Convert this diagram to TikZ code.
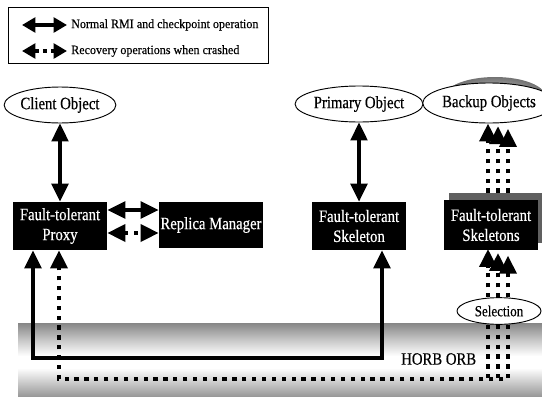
\documentclass[tikz,border=0pt]{standalone}
\usepackage{fontspec}
\setmainfont[FakeStretch=0.85,FakeBold=0.5]{Liberation Serif}
\newfontfamily\legfont[FakeStretch=0.95,FakeBold=0.3]{Liberation Serif}
\usetikzlibrary{arrows.meta,shapes.geometric}

\tikzset{
  objell/.style={ellipse,draw,line width=0.7pt,fill=white,inner sep=0pt,
    font=\fontsize{13}{15}\selectfont},
  ftbox/.style={rectangle,fill=black,text=white,inner sep=0pt,align=center,
    font=\fontsize{13}{15}\selectfont},
  bigtip/.tip={Triangle[length=13.5pt,width=12.5pt]},
  legtip/.tip={Triangle[length=10pt,width=11pt]},
  rmi/.style={line width=2.6pt,bigtip-bigtip},
  rec/.style={line width=3.2pt,dash pattern=on 3.2pt off 4.2pt},
  rectip/.style={rec,-bigtip},
  legtext/.style={anchor=west,inner sep=0pt,font=\legfont\fontsize{9.5}{11}\selectfont}
}

\begin{document}
\begin{tikzpicture}[x=0.75pt,y=0.75pt,yscale=-1,xscale=1]
\useasboundingbox (0,0) rectangle (542,396);

%Shape: ORB band
\shade[top color=gray!95,bottom color=white,middle color=gray!45] (18,323) rectangle (542,356);
\shade[top color=white,bottom color=gray!80] (18,368) rectangle (542,396);

%Shape: Legend box
\draw[line width=0.7pt] (8,7) rectangle (268,63);
\coordinate (legA) at (22,25);
\coordinate (legB) at (67,25);
\coordinate (legC) at (22,51);
\coordinate (legD) at (67,51);
\draw[line width=2.8pt,legtip-legtip] (legA) -- (legB);
\draw[line width=3pt,dash pattern=on 3pt off 3.2pt,legtip-legtip] (legC) -- (legD);
% Text Node
\node[legtext] (legrmi) at (71,25) {Normal RMI and checkpoint operation};
% Text Node
\node[legtext] (legrec) at (71,51) {Recovery operations when crashed};

%Shape: Objects
\node[objell,minimum width=69pt,minimum height=27pt] (client) at (60,105) {Client Object};
\node[objell,minimum width=72pt,minimum height=27pt] (primary) at (359,104) {Primary Object};
\shade[inner color=gray!30,outer color=gray!90!black] (495,97) ellipse (38pt and 15pt);
\node[objell,minimum width=76pt,minimum height=30pt] (backup) at (489,103) {Backup Objects};

%Shape: Fault-tolerant boxes
\node[ftbox,minimum width=70.5pt,minimum height=36pt] (proxy) at (60,226) {Fault-tolerant\\Proxy};
\node[ftbox,minimum width=78pt,minimum height=34pt] (replica) at (211,225) {Replica Manager};
\node[ftbox,minimum width=70pt,minimum height=36pt] (skel) at (359,226) {Fault-tolerant\\Skeleton};
\node[rectangle,fill=gray!75!black,minimum width=70pt,minimum height=37.5pt] (skelsback) at (496,218) {};
\node[ftbox,minimum width=70pt,minimum height=37.5pt] (skels) at (491,225) {Fault-tolerant\\Skeletons};

%Shape: Selection
\node[objell,minimum width=63pt,minimum height=20pt,font=\fontsize{11.5}{13}\selectfont] (selection) at (499,311) {Selection};

% Text Node
\node[anchor=west,inner sep=0pt,font=\fontsize{13}{15}\selectfont] (orb) at (401,359) {HORB ORB};

%Lanes
\coordinate (rmiA) at (0,210);
\coordinate (recA) at (0,233);
\coordinate (callL) at (33,0);
\coordinate (recvL) at (59,0);
\coordinate (callR) at (382,0);
\coordinate (orbsolid) at (0,358);
\coordinate (orbdot) at (0,379);
\coordinate (laneA) at (488,0);
\coordinate (laneB) at (498,0);
\coordinate (laneC) at (508,0);

%Connectors
\draw[rmi] (client) -- (proxy);
\draw[rmi] (primary) -- (skel);
\draw[rmi] (proxy.east |- rmiA) -- (replica.west |- rmiA);
\draw[rec,bigtip-bigtip] (proxy.east |- recA) -- (replica.west |- recA);
\draw[rmi] (proxy.south -| callL) -- (callL |- orbsolid) -- (callR |- orbsolid) -- (skel.south -| callR);

\draw[rectip] (skelsback.north -| laneA) -- (backup.south -| laneA);
\draw[rectip,shorten >=2pt] (skelsback.north -| laneB) -- (backup.south -| laneB);
\draw[rectip,shorten >=4pt] (skelsback.north -| laneC) -- (backup.south -| laneC);

\draw[rectip,shorten >=-1pt] (selection.north -| laneA) -- (skels.south -| laneA);
\draw[rectip,shorten >=2pt] (selection.north -| laneB) -- (skels.south -| laneB);
\draw[rectip,shorten >=4pt] (selection.north -| laneC) -- (skels.south -| laneC);

\draw[rec] (selection.south -| laneA) -- (laneA |- orbdot);
\draw[rec] (selection.south -| laneB) -- (laneB |- orbdot);
\draw[rectip] (selection.south -| laneC) -- (laneC |- orbdot) -- (recvL |- orbdot) -- (proxy.south -| recvL);

\end{tikzpicture}
\end{document}
